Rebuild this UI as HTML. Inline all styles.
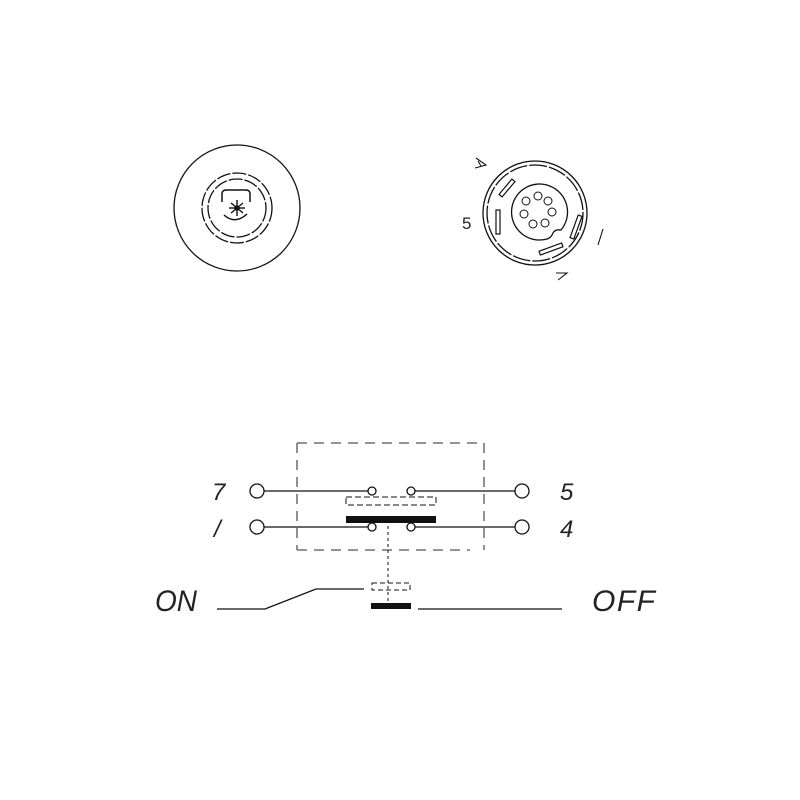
<!DOCTYPE html>
<html><head><meta charset="utf-8"><style>
html,body{margin:0;padding:0;background:#fff;width:800px;height:800px;overflow:hidden}
svg text{font-family:"Liberation Sans",sans-serif;fill:#222}
</style></head><body>
<svg width="800" height="800" viewBox="0 0 800 800" xmlns="http://www.w3.org/2000/svg" fill="none" stroke="#111" stroke-width="1.3">
<!-- left circle -->
<circle cx="237" cy="208" r="63"/>
<circle cx="237" cy="208" r="35" stroke-dasharray="14 2"/>
<circle cx="237" cy="208" r="29" stroke-dasharray="14 2"/>
<path d="M222 202 V194 Q222 190 226 190 H246 Q250 190 250 194 V202" stroke-width="1.5"/>
<path d="M224 215 Q235 225 247 214" stroke-width="1.5"/>
<g stroke-width="1.4"><line x1="231" y1="203" x2="243" y2="213"/><line x1="243" y1="203" x2="231" y2="213"/><line x1="237" y1="200" x2="237" y2="216"/><line x1="229" y1="208" x2="245" y2="208"/></g>
<circle cx="237" cy="208" r="2" fill="#111"/>
<!-- right circle -->
<circle cx="535" cy="213" r="52"/>
<circle cx="535" cy="213" r="48" stroke-dasharray="18 2"/>
<path d="M547 239 A28 28 0 1 1 561 230 Q555 229 553 233 Q551 238 547 239"/>
<g stroke-width="1">
<circle cx="538" cy="196" r="4"/><circle cx="548" cy="201" r="4"/><circle cx="552" cy="212" r="4"/>
<circle cx="545" cy="223" r="4"/><circle cx="533" cy="224" r="4"/><circle cx="524" cy="214" r="4"/><circle cx="526" cy="201" r="4"/>
</g>
<g stroke-width="1.2">
<rect x="-2" y="-10" width="4" height="20" transform="translate(507 188) rotate(40)"/>
<rect x="-2" y="-12" width="4" height="24" transform="translate(498 222)"/>
<rect x="-2" y="-12" width="4" height="24" transform="translate(576 227) rotate(20)"/>
<rect x="-2" y="-12" width="4" height="24" transform="translate(551 249) rotate(70)"/>
</g>
<text x="462" y="229" font-size="17" stroke="none" fill="#222">5</text>
<path d="M476 158 L486 165 L475 168 M478 161 L481 166" stroke-width="1.1"/>
<path d="M603 229 L598 245" stroke-width="1.1"/>
<path d="M556 273 L567 273 L558 280" stroke-width="1.1"/>
<!-- dashed box -->
<g stroke="#555" stroke-dasharray="10 7">
<line x1="297" y1="443" x2="484" y2="443"/>
<line x1="297" y1="443" x2="297" y2="550"/>
<line x1="484" y1="443" x2="484" y2="550"/>
<line x1="297" y1="550" x2="470" y2="550"/>
</g>
<!-- wires -->
<line x1="264" y1="491" x2="368" y2="491"/>
<line x1="415" y1="491" x2="515" y2="491"/>
<line x1="264" y1="527" x2="368" y2="527"/>
<line x1="415" y1="527" x2="515" y2="527"/>
<circle cx="257" cy="491" r="7"/><circle cx="522" cy="491" r="7"/>
<circle cx="257" cy="527" r="7"/><circle cx="522" cy="527" r="7"/>
<circle cx="372" cy="491" r="4"/><circle cx="411" cy="491" r="4"/>
<circle cx="372" cy="527" r="4"/><circle cx="411" cy="527" r="4"/>
<rect x="346" y="497" width="90" height="8" stroke-dasharray="6 3" stroke-width="1"/>
<rect x="346" y="516" width="90" height="7" fill="#111" stroke="none"/>
<line x1="388" y1="520" x2="388" y2="605" stroke-dasharray="3 3" stroke-width="1"/>
<rect x="372" y="583" width="38" height="7" stroke-dasharray="5 3" stroke-width="1"/>
<rect x="371" y="603" width="40" height="6" fill="#111" stroke="none"/>
<polyline points="217,609 265,609 316,589 364,589"/>
<line x1="418" y1="609" x2="562" y2="609"/>
<!-- labels -->
<g stroke="none" fill="#222" font-style="italic">
<text x="212" y="500" font-size="24">7</text>
<text x="214" y="537" font-size="24">/</text>
<text x="560" y="500" font-size="24">5</text>
<text x="560" y="537" font-size="24">4</text>
<text x="155" y="611" font-size="30" textLength="42" lengthAdjust="spacingAndGlyphs">ON</text>
<text x="592" y="611" font-size="30" textLength="63" lengthAdjust="spacing">OFF</text>
</g>
</svg>
</body></html>
